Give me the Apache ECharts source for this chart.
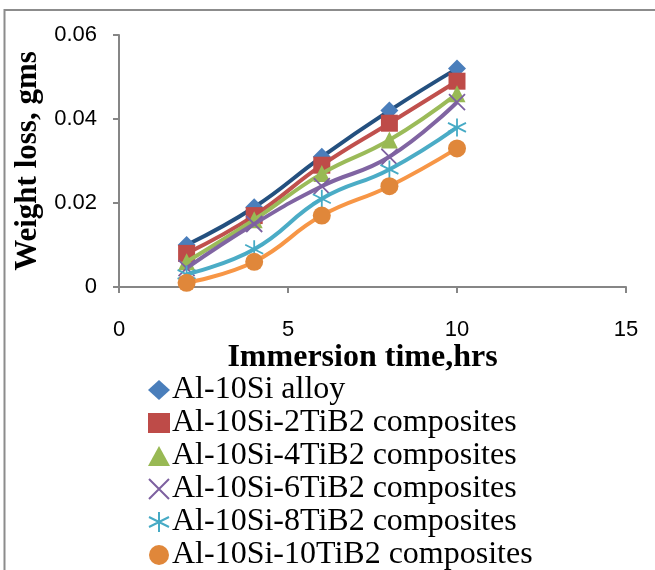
<!DOCTYPE html>
<html>
<head>
<meta charset="utf-8">
<script src="https://cdn.jsdelivr.net/npm/echarts@6/dist/echarts.min.js"></script>
<style>
  html, body { margin: 0; padding: 0; background: #fff; }
  #chart { width: 655px; height: 570px; }
</style>
</head>
<body>
<div id="chart"></div>
<script>
// immersion time (hrs)
const hours = [2, 4, 6, 8, 10]

const seriesNames = [
  'Al-10Si alloy',
  'Al-10Si-2TiB2 composites',
  'Al-10Si-4TiB2 composites',
  'Al-10Si-6TiB2 composites',
  'Al-10Si-8TiB2 composites',
  'Al-10Si-10TiB2 composites',
]

// weight loss, gms
const alloy = [0.010, 0.019, 0.031, 0.042, 0.052]
const tib2_2 = [0.008, 0.017, 0.029, 0.039, 0.049]
const tib2_4 = [0.006, 0.016, 0.027, 0.035, 0.046]
const tib2_6 = [0.0045, 0.015, 0.024, 0.031, 0.044]
const tib2_8 = [0.003, 0.009, 0.021, 0.028, 0.038]
const tib2_10 = [0.001, 0.006, 0.017, 0.024, 0.033]

const values = [alloy, tib2_2, tib2_4, tib2_6, tib2_8, tib2_10]

const styles = [
  { symbol: 'diamond', size: 18, marker: '#4A7EBB', line: '#24507F' },
  { symbol: 'rect', size: 17, marker: '#BE4B48', line: '#C0504D' },
  { symbol: 'triangle', size: 17, marker: '#98B954', line: '#9BBB59' },
  { symbol: 'path://M0,0L10,10M10,0L0,10', size: 16, marker: '#7D60A0', line: '#8064A2', stroke: true },
  { symbol: 'path://M5,0L5,10M0,2.5L10,7.5M10,2.5L0,7.5', size: 18, marker: '#46AAC5', line: '#4BACC6', stroke: true },
  { symbol: 'circle', size: 18, marker: '#E0873A', line: '#F79646' },
]

const serifFont = '"Liberation Serif", "Times New Roman", serif'
const sansFont = '"Liberation Sans", Arial, sans-serif'

const chart = echarts.init(document.getElementById('chart'))

const series = values.map((data, i) => {
  const s = styles[i]
  return {
    name: seriesNames[i],
    type: 'line',
    smooth: 0.45,
    data: hours.map((h, j) => [h, data[j]]),
    symbol: s.symbol,
    symbolSize: s.size,
    showAllSymbol: true,
    lineStyle: { color: s.line, width: 4 },
    itemStyle: s.stroke
      ? { color: 'rgba(0,0,0,0)', borderColor: s.marker, borderWidth: 1.8 }
      : { color: s.marker, borderWidth: 0 },
    emphasis: { disabled: true },
    z: 2 + i,
  }
})

chart.setOption({
  animation: false,
  backgroundColor: '#fff',
  graphic: [{
    type: 'polyline',
    shape: { points: [[4.5, 575], [4.5, 10], [660, 10]] },
    style: { stroke: '#8c8c8c', lineWidth: 2, fill: null },
  }],
  grid: { left: 119, right: 29, top: 35, bottom: 283, containLabel: false },
  legend: {
    orient: 'vertical',
    left: 143,
    top: 369,
    height: 200,
    itemWidth: 22,
    itemHeight: 20,
    itemGap: 1,
    textStyle: { fontFamily: serifFont, fontSize: 32, color: '#000', padding: [0, 0, 0, -3] },
    data: seriesNames.map((name, i) => ({ name, icon: styles[i].symbol })),
  },
  xAxis: {
    type: 'value',
    min: 0,
    max: 15,
    interval: 5,
    name: 'Immersion time,hrs',
    nameLocation: 'middle',
    nameGap: 50,
    nameTextStyle: {
      fontFamily: serifFont, fontSize: 32, fontWeight: 'bold', color: '#000',
      padding: [0, 20, 0, 0],
    },
    axisLine: { show: true, lineStyle: { color: '#868686', width: 2 } },
    axisTick: { show: true, inside: false, length: 6, lineStyle: { color: '#868686', width: 2 } },
    axisLabel: { margin: 32, fontFamily: sansFont, fontSize: 22, color: '#000' },
    splitLine: { show: false },
  },
  yAxis: {
    type: 'value',
    min: 0,
    max: 0.06,
    interval: 0.02,
    name: 'Weight loss, gms',
    nameLocation: 'middle',
    nameGap: 72,
    nameTextStyle: { fontFamily: serifFont, fontSize: 31, fontWeight: 'bold', color: '#000' },
    axisLine: { show: true, lineStyle: { color: '#868686', width: 2 } },
    axisTick: { show: true, inside: false, length: 6, lineStyle: { color: '#868686', width: 2 } },
    axisLabel: { margin: 22, fontFamily: sansFont, fontSize: 22, color: '#000' },
    splitLine: { show: false },
  },
  series,
})
</script>
</body>
</html>
